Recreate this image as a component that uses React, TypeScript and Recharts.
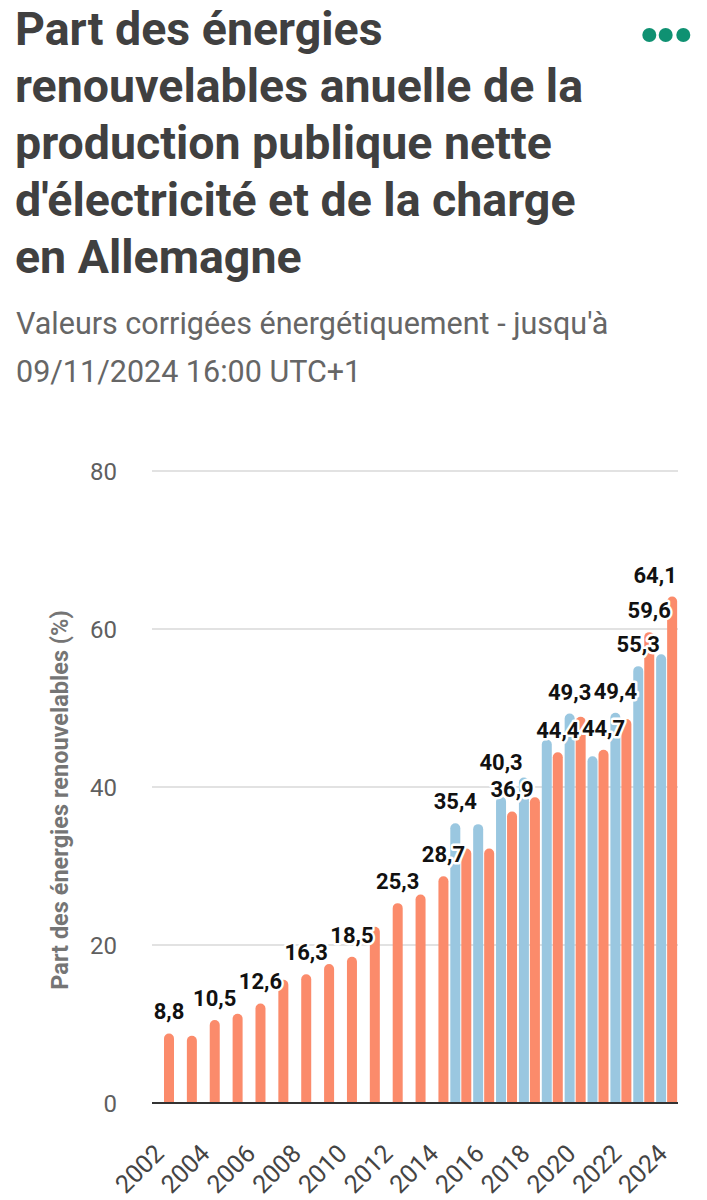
import { Bar, BarChart, CartesianGrid, LabelList, XAxis, YAxis } from 'recharts';

const years = [
  '2002', '2003', '2004', '2005', '2006', '2007', '2008', '2009', '2010', '2011', '2012', '2013',
  '2014', '2015', '2016', '2017', '2018', '2019', '2020', '2021', '2022', '2023', '2024',
];

// orange series (all years)
const productionShare = [
  8.8, 8.5, 10.5, 11.3, 12.6, 15.6, 16.3, 17.6, 18.5, 22.3, 25.3, 26.4,
  28.7, 32.2, 32.2, 36.9, 38.7, 44.4, 48.9, 44.7, 48.6, 59.6, 64.1,
];
const productionLabels = [
  '8,8', null, '10,5', null, '12,6', null, '16,3', null, '18,5', null, '25,3', null,
  '28,7', null, null, '36,9', null, '44,4', null, '44,7', null, '59,6', '64,1',
];

// blue series (from 2015)
const loadShare = [
  null, null, null, null, null, null, null, null, null, null, null, null,
  null, 35.4, 35.3, 38.8, 41.2, 46.0, 49.3, 43.9, 49.4, 55.3, 56.8,
];
const loadLabels = [
  null, null, null, null, null, null, null, null, null, null, null, null,
  null, '35,4', null, '40,3', null, null, '49,3', null, '49,4', '55,3', null,
];

const yTicks = [0, 20, 40, 60, 80];

const data = years.map((year, i) => ({
  year,
  production: productionShare[i],
  productionLabel: productionLabels[i],
  load: loadShare[i],
  loadLabel: loadLabels[i],
}));

const BLUE = '#9ac7e0';
const ORANGE = '#fb8b6b';
const FONT = 'Roboto, "Noto Sans", sans-serif';
const LABEL_SIZE = 22;
const PLOT_RIGHT = 678;

function labelText(x: number, y: number, value: string) {
  // keep the label inside the plot on the right side
  const half = (value.length * 0.52 * LABEL_SIZE) / 2;
  const cx = Math.min(x, PLOT_RIGHT - half);
  return (
    <text
      x={cx}
      y={y}
      textAnchor="middle"
      fontFamily={FONT}
      fontSize={LABEL_SIZE}
      fontWeight={700}
      fill="#111"
      stroke="#fff"
      strokeWidth={5}
      strokeLinejoin="round"
      paintOrder="stroke"
    >
      {value}
    </text>
  );
}

function ProductionLabel(props: any) {
  const { x, y, width, value } = props;
  if (value == null) return null;
  return labelText(x + width / 2, y - 14, value);
}

function LoadLabel(props: any) {
  const { x, y, width, height, value } = props;
  if (value == null) return null;
  let ly = y - 14;
  // lift above the neighbouring orange label when they would collide
  const i = loadLabels.indexOf(value);
  const other = i >= 0 ? productionLabels[i] : null;
  const v = i >= 0 ? loadShare[i] : null;
  if (other && v) {
    const perUnit = height / v;
    const oy = y + height - productionShare[i] * perUnit - 14;
    if (Math.abs(ly - oy) < 24) ly = Math.min(ly, oy - 27);
  }
  return labelText(x + width / 2, ly, value);
}

function YearTick(props: any) {
  const { x, y, payload } = props;
  const ax = x + 2;
  const ay = y + 44;
  return (
    <text
      x={ax}
      y={ay}
      textAnchor="end"
      transform={`rotate(-45, ${ax}, ${ay})`}
      fontFamily={FONT}
      fontSize={25}
      fill="#444"
    >
      {payload.value}
    </text>
  );
}

export default function App() {
  return (
    <div
      style={{
        position: 'absolute',
        left: 0,
        top: 0,
        width: 707,
        height: 1200,
        background: '#fff',
        fontFamily: FONT,
        overflow: 'hidden',
      }}
    >
      <div
        style={{
          position: 'absolute',
          left: 15,
          top: 1,
          fontSize: 46.5,
          lineHeight: '57px',
          fontWeight: 700,
          color: '#404040',
          whiteSpace: 'nowrap',
        }}
      >
        <div>Part des énergies</div>
        <div>renouvelables anuelle de la</div>
        <div>production publique nette</div>
        <div>d'électricité et de la charge</div>
        <div>en Allemagne</div>
      </div>
      <svg style={{ position: 'absolute', left: 636, top: 24 }} width={60} height={22}>
        <circle cx={13.3} cy={11} r={7} fill="#0f9172" />
        <circle cx={29.7} cy={11} r={7} fill="#0f9172" />
        <circle cx={47.3} cy={11} r={7} fill="#0f9172" />
      </svg>
      <div
        style={{
          position: 'absolute',
          left: 16,
          top: 300,
          fontSize: 30.5,
          lineHeight: '48px',
          color: '#666',
          whiteSpace: 'nowrap',
        }}
      >
        <div>Valeurs corrigées énergétiquement - jusqu'à</div>
        <div>09/11/2024 16:00 UTC+1</div>
      </div>
      <div style={{ position: 'absolute', left: 0, top: 440 }}>
        <BarChart
          width={707}
          height={760}
          data={data}
          margin={{ top: 31, right: 29, bottom: 0, left: 0 }}
          barSize={10}
          barGap={1}
        >
          <CartesianGrid vertical={false} stroke="#e2e2e2" strokeWidth={2} />
          <XAxis
            dataKey="year"
            interval={1}
            height={97}
            tickLine={false}
            axisLine={{ stroke: '#333', strokeWidth: 2 }}
            tick={<YearTick />}
          />
          <YAxis
            domain={[0, 80]}
            ticks={yTicks}
            width={152}
            axisLine={false}
            tickLine={false}
            tickSize={6}
            tickMargin={29}
            tick={{ fontFamily: FONT, fontSize: 24, fill: '#5f5f5f' }}
            label={{
              content: (p: any) => {
                const vb = p.viewBox;
                const cy = vb.y + vb.height / 2 + 13;
                return (
                  <text
                    x={60}
                    y={cy}
                    transform={`rotate(-90, 60, ${cy})`}
                    textAnchor="middle"
                    dominantBaseline="central"
                    fontFamily={FONT}
                    fontSize={23.5}
                    fontWeight={700}
                    fill="#757575"
                  >
                    Part des énergies renouvelables (%)
                  </text>
                );
              },
            }}
          />
          <Bar dataKey="load" fill={BLUE} radius={[5, 5, 0, 0]} isAnimationActive={false}>
            <LabelList dataKey="loadLabel" content={<LoadLabel />} />
          </Bar>
          <Bar dataKey="production" fill={ORANGE} radius={[5, 5, 0, 0]} isAnimationActive={false}>
            <LabelList dataKey="productionLabel" content={<ProductionLabel />} />
          </Bar>
        </BarChart>
      </div>
    </div>
  );
}
